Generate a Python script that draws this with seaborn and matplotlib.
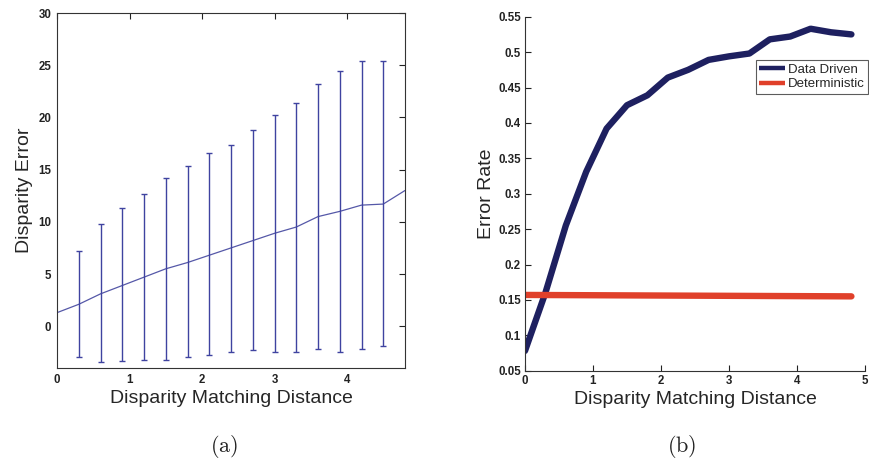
import matplotlib
matplotlib.use("Agg")
import matplotlib.pyplot as plt
import seaborn as sns
import numpy as np
import pandas as pd

# ---- data (panel a) ----
dist_line = [0.0, 0.3, 0.6, 0.9, 1.2, 1.5, 1.8, 2.1, 2.4, 2.7, 3.0, 3.3, 3.6, 3.9, 4.2, 4.5, 4.8]
mean_err = [1.3, 2.1, 3.1, 3.9, 4.7, 5.5, 6.1, 6.8, 7.5, 8.2, 8.9, 9.5, 10.5, 11.0, 11.6, 11.7, 13.0]
dist_bars = [0.3, 0.6, 0.9, 1.2, 1.5, 1.8, 2.1, 2.4, 2.7, 3.0, 3.3, 3.6, 3.9, 4.2, 4.5]
bar_upper = [7.2, 9.8, 11.3, 12.7, 14.2, 15.3, 16.6, 17.4, 18.8, 20.2, 21.4, 23.2, 24.4, 25.4, 25.4]
bar_lower = [-2.9, -3.4, -3.3, -3.2, -3.2, -2.9, -2.8, -2.5, -2.3, -2.5, -2.5, -2.2, -2.5, -2.2, -1.9]

# ---- data (panel b) ----
dist_b = [0.0, 0.3, 0.6, 0.9, 1.2, 1.5, 1.8, 2.1, 2.4, 2.7, 3.0, 3.3, 3.6, 3.9, 4.2, 4.5, 4.8]
data_driven = [0.078, 0.16, 0.255, 0.331, 0.392, 0.425, 0.439, 0.464, 0.475, 0.489, 0.494, 0.498,
               0.518, 0.522, 0.533, 0.528, 0.525]
det_x = [0.0, 4.8]
deterministic = [0.157, 0.155]

sns.set_theme(style="white")
plt.rcParams['font.family'] = ['Liberation Sans', 'DejaVu Sans']

W, H = 869, 463
fig = plt.figure(figsize=(W / 100, H / 100), dpi=100)

def fx(px):
    return px / W

def fy(py):
    return 1 - py / H

label_family = ['Liberation Sans', 'DejaVu Sans']
tick_fs = 8.3
label_fs = 14

# ---------- panel (a) ----------
axa = fig.add_axes([fx(57), fy(368), fx(405) - fx(57), fy(13) - fy(368)])
line_color = "#5558a8"
sns.lineplot(x=dist_line, y=mean_err, ax=axa, color=line_color, linewidth=0.9)
mid = [(u + l) / 2 for u, l in zip(bar_upper, bar_lower)]
yerr = np.array([[m - l for m, l in zip(mid, bar_lower)],
                 [u - m for m, u in zip(mid, bar_upper)]])
axa.errorbar(dist_bars, mid, yerr=yerr, fmt='none', ecolor="#3f43a0",
             elinewidth=1.0, capsize=2.5, capthick=1.0)
axa.set_xlim(0, 4.8)
axa.set_ylim(-4, 30)
axa.set_xticks([0, 1, 2, 3, 4])
axa.set_yticks([0, 5, 10, 15, 20, 25, 30])
axa.tick_params(direction='in', length=4, width=0.8, top=True, right=True,
                labelsize=tick_fs, colors='#222222', pad=4)
for lab in axa.get_xticklabels() + axa.get_yticklabels():
    lab.set_fontweight('bold')
for s in axa.spines.values():
    s.set_color('#333333')
    s.set_linewidth(0.8)
    s.set_visible(True)
axa.set_xlabel("Disparity Matching Distance", fontsize=label_fs, family=label_family, labelpad=3)
axa.set_ylabel("Disparity Error", fontsize=label_fs, family=label_family, labelpad=4)
axa.grid(False)

# ---------- panel (b) ----------
axb = fig.add_axes([fx(525), fy(370.7), fx(865) - fx(525), fy(16.7) - fy(370.7)])
sns.lineplot(x=dist_b, y=data_driven, ax=axb, color="#1e2060", linewidth=4.6,
             label="Data Driven")
sns.lineplot(x=det_x, y=deterministic, ax=axb, color="#e0402a", linewidth=4.6,
             label="Deterministic")
axb.set_xlim(0, 5)
axb.set_ylim(0.05, 0.55)
axb.set_xticks([0, 1, 2, 3, 4, 5])
axb.set_yticks([0.05, 0.1, 0.15, 0.2, 0.25, 0.3, 0.35, 0.4, 0.45, 0.5, 0.55])
axb.set_yticklabels(["0.05", "0.1", "0.15", "0.2", "0.25", "0.3", "0.35", "0.4",
                     "0.45", "0.5", "0.55"])
axb.tick_params(direction='in', length=4, width=0.8, labelsize=tick_fs,
                colors='#222222', pad=3, left=True, bottom=True)
for lab in axb.get_xticklabels() + axb.get_yticklabels():
    lab.set_fontweight('bold')
for k in ['top', 'right']:
    axb.spines[k].set_visible(False)
for k in ['left', 'bottom']:
    axb.spines[k].set_color('#333333')
    axb.spines[k].set_linewidth(0.8)
axb.set_xlabel("Disparity Matching Distance", fontsize=label_fs, family=label_family, labelpad=3)
axb.set_ylabel("Error Rate", fontsize=label_fs, family=label_family, labelpad=2)
axb.grid(False)
leg = axb.legend(loc='upper right', bbox_to_anchor=(fx(868), fy(60)),
                 bbox_transform=fig.transFigure, fontsize=9.5, frameon=True,
                 fancybox=False, handlelength=1.9, handletextpad=0.25,
                 borderpad=0.25, labelspacing=0.2, borderaxespad=0)
for h in leg.get_lines():
    h.set_linewidth(3.2)
    h.set_solid_capstyle('butt')
leg.get_frame().set_edgecolor('#333333')
leg.get_frame().set_linewidth(0.8)

fig.text(fx(224), fy(446), r"$\mathrm{(a)}$", ha='center', va='center', fontsize=16,
         math_fontfamily='cm', color='#222222')
fig.text(fx(682), fy(446), r"$\mathrm{(b)}$", ha='center', va='center', fontsize=16,
         math_fontfamily='cm', color='#222222')

fig.savefig("out.png", dpi=100)
